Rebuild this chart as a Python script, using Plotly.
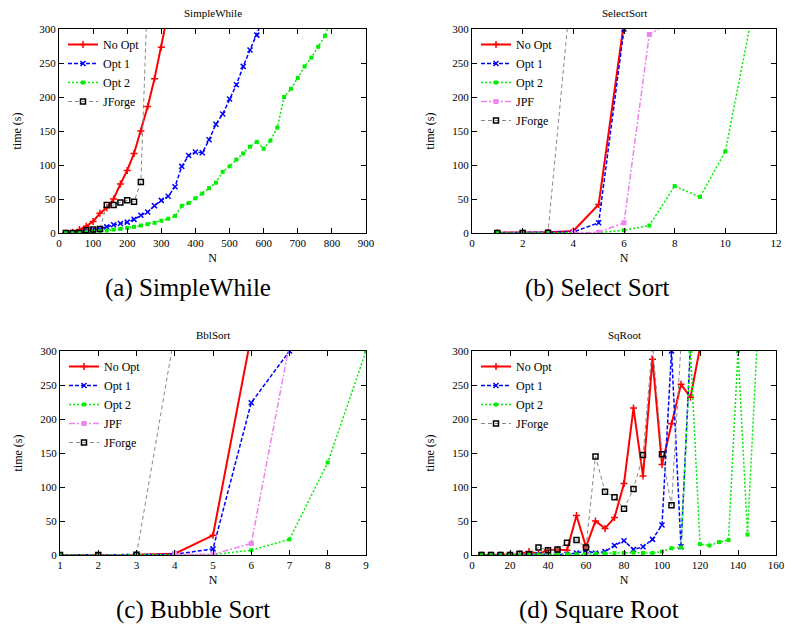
import plotly.graph_objects as go

# ---------------- data ----------------
# (a) SimpleWhile
sw_n = [20, 40, 60, 80, 100, 120, 140, 160, 180, 200, 220, 240, 260, 280, 300, 320]
sw_noopt = [0, 1, 5, 10, 17, 29, 37, 50, 72, 92, 117, 150, 186, 227, 273, 325]
sw_n1 = [20, 40, 60, 80, 100, 120, 140, 160, 180, 200, 220, 240, 260, 280, 300, 320, 340, 360, 380,
         400, 420, 440, 460, 480, 500, 520, 540, 560, 580, 600]
sw_opt1 = [0, 0.5, 1, 3, 4, 6, 9, 12, 14, 16, 20, 26, 31, 40, 48, 54, 68, 98, 114,
           119, 118, 137, 160, 175, 197, 218, 245, 269, 291, 317]
sw_n2 = [20, 40, 60, 80, 100, 120, 140, 160, 180, 200, 220, 240, 260, 280, 300, 320, 340, 360, 380,
         400, 420, 440, 460, 480, 500, 520, 540, 560, 580, 600, 620, 640, 660, 680, 700, 720,
         740, 760, 780, 800]
sw_opt2 = [0, 0, 0.5, 1, 2, 2.5, 3.5, 5, 6, 7.5, 9, 11, 13, 15, 18, 21, 25, 40, 44,
           51, 58, 66, 74, 90, 98, 108, 117, 127, 134, 124, 136, 155, 200, 212, 228, 245,
           258, 274, 290, 320]
sw_nj = [20, 40, 60, 80, 100, 120, 140, 160, 180, 200, 220, 240, 260]
sw_jforge = [0, 0, 0, 4, 5, 6, 41, 41, 45, 48, 46, 75, 360]

# (b) SelectSort
ss_n = [1, 2, 3, 4, 5, 6]
ss_noopt = [0.5, 0.5, 1, 3, 42, 310]
ss_opt1 = [0.5, 0.5, 0.5, 1.5, 15, 300]
ss_n2 = [1, 2, 3, 4, 5, 6, 7, 8, 9, 10, 11]
ss_opt2 = [0, 0, 0, 0, 0.5, 4, 11, 69, 53, 120, 310]
ss_nj = [4, 5, 6, 7, 8]
ss_jpf = [0.5, 1, 15, 292, 315]
ss_nf = [1, 2, 3, 4]
ss_jforge = [0, 0, 0.5, 395]

# (c) BblSort
bs_n = [1, 2, 3, 4, 5, 6]
bs_noopt = [0, 0, 0.5, 2, 29, 323]
bs_n1 = [1, 2, 3, 4, 5, 6, 7]
bs_opt1 = [0, 0, 0.5, 1, 9, 224, 300]
bs_n2 = [1, 2, 3, 4, 5, 6, 7, 8, 9]
bs_opt2 = [0, 0, 0, 0, 0.5, 7, 23, 136, 300]
bs_nj = [4, 5, 6, 7]
bs_jpf = [1, 1, 17, 310]
bs_nf = [1, 2, 3, 4]
bs_jforge = [0, 0, 0.5, 326]

# (d) SqRoot
sq_n = [5, 10, 15, 20, 25, 30, 35, 40, 45, 50, 55, 60, 65, 70, 75, 80, 85, 90, 95, 100,
        105, 110, 115, 120]
sq_noopt = [0, 0, 0, 0.5, 1, 5, 2, 7, 8, 7, 58, 12, 50, 39, 55, 105, 216, 116, 288, 133,
            193, 251, 232, 305]
sq_n1 = [5, 10, 15, 20, 25, 30, 35, 40, 45, 50, 55, 60, 65, 70, 75, 80, 85, 90, 95, 100,
         105, 110, 115]
sq_opt1 = [0, 0, 0, 0, 0, 0.5, 0.5, 0.5, 1, 1, 3, 6, 3, 5, 14, 21, 8, 12, 23, 44,
           300, 12, 310]
sq_n2 = [5, 10, 15, 20, 25, 30, 35, 40, 45, 50, 55, 60, 65, 70, 75, 80, 85, 90, 95, 100,
         105, 110, 115, 120, 125, 130, 135, 140, 145, 150]
sq_opt2 = [0, 0, 0, 0, 0, 0.5, 0.5, 0.5, 1, 1, 1, 1.5, 2, 2.5, 3, 3, 3.5, 3, 3, 5,
           10, 11, 300, 16, 14, 19, 22, 300, 30, 310]
sq_nf = [5, 10, 15, 20, 25, 30, 35, 40, 45, 50, 55, 60, 65, 70, 75, 80, 85, 90, 95, 100,
         105, 110]
sq_jforge = [0, 0, 0, 0, 2, 1, 11, 7, 8, 18, 22, 11, 145, 93, 85, 68, 97, 147, 310, 148,
             73, 310]

titles = ["SimpleWhile", "SelectSort", "BblSort", "SqRoot"]
captions = ["(a) SimpleWhile", "(b) Select Sort", "(c) Bubble Sort", "(d) Square Root"]

# ---------------- styles ----------------
FONT = "Liberation Serif, DejaVu Serif, serif"
W, H = 785, 628

STY = {
    "No Opt": dict(line=dict(color="#ff0000", width=2, dash="solid"),
                   marker=dict(symbol="cross-thin", size=5, color="#ff0000",
                               line=dict(color="#ff0000", width=1.5))),
    "Opt 1": dict(line=dict(color="#0000ff", width=1.5, dash="4px,2px"),
                  marker=dict(symbol="x-thin", size=5, color="#0000ff",
                              line=dict(color="#0000ff", width=1.5))),
    "Opt 2": dict(line=dict(color="#00ee00", width=1.5, dash="2px,2px"),
                  marker=dict(symbol="square", size=4, color="#00ee00")),
    "JPF": dict(line=dict(color="#ee82ee", width=1.5, dash="6px,2px,2px,2px"),
                marker=dict(symbol="square", size=5, color="#ee82ee")),
    "JForge": dict(line=dict(color="#888888", width=1, dash="4px,3px"),
                   marker=dict(symbol="square-open", size=5, color="#000000",
                               line=dict(color="#000000", width=1.5))),
}

panels = [
    [("No Opt", sw_n, sw_noopt), ("Opt 1", sw_n1, sw_opt1), ("Opt 2", sw_n2, sw_opt2),
     ("JForge", sw_nj, sw_jforge)],
    [("No Opt", ss_n, ss_noopt), ("Opt 1", ss_n, ss_opt1), ("Opt 2", ss_n2, ss_opt2),
     ("JPF", ss_nj, ss_jpf), ("JForge", ss_nf, ss_jforge)],
    [("No Opt", bs_n, bs_noopt), ("Opt 1", bs_n1, bs_opt1), ("Opt 2", bs_n2, bs_opt2),
     ("JPF", bs_nj, bs_jpf), ("JForge", bs_nf, bs_jforge)],
    [("No Opt", sq_n, sq_noopt), ("Opt 1", sq_n1, sq_opt1), ("Opt 2", sq_n2, sq_opt2),
     ("JForge", sq_nf, sq_jforge)],
]

# plot boxes in pixels (left, right, top, bottom)
boxes = [(59, 366, 29, 233), (472, 776, 29, 233), (60, 366, 351, 555), (472, 776, 351, 555)]
xranges = [(0, 900, 100), (0, 12, 2), (1, 9, 1), (0, 160, 20)]
caption_pos = [(188, 288), (597, 288), (193, 610), (599, 610)]

fig = go.Figure()
layout = dict(
    template="none",
    width=W, height=H, margin=dict(l=0, r=0, t=0, b=0, autoexpand=False),
    paper_bgcolor="white", plot_bgcolor="white",
    font=dict(family=FONT, size=11, color="black"),
    annotations=[],
)

for i, (series, box, xr) in enumerate(zip(panels, boxes, xranges)):
    k = "" if i == 0 else str(i + 1)
    lg = "legend" if i == 0 else f"legend{i + 1}"
    for name, xs, ys in series:
        s = STY[name]
        fig.add_trace(go.Scatter(
            x=xs, y=ys, name=name, mode="lines+markers",
            line=s["line"], marker=s["marker"],
            xaxis="x" + k, yaxis="y" + k, legend=lg,
        ))
    l, r, t, b = box
    xd = [l / W, r / W]
    yd = [1 - b / H, 1 - t / H]
    common = dict(showgrid=False, zeroline=False, showline=True, linecolor="black",
                  linewidth=1, mirror="allticks", ticks="inside", ticklen=5,
                  tickcolor="black", automargin=False,
                  tickfont=dict(family=FONT, size=11))
    layout["xaxis" + k] = dict(domain=xd, range=[xr[0], xr[1]], dtick=xr[2], tick0=0,
                               anchor="y" + k,
                               title=dict(text="N", font=dict(family=FONT, size=12), standoff=5),
                               **common)
    layout["yaxis" + k] = dict(domain=yd, range=[0, 300], dtick=50, anchor="x" + k,
                               title=dict(text="time (s)", font=dict(family=FONT, size=12),
                                          standoff=15),
                               **common)
    layout[lg] = dict(x=(l + 4) / W, y=1 - (t + 1) / H, xanchor="left", yanchor="top",
                      bgcolor="rgba(0,0,0,0)", borderwidth=0,
                      font=dict(family=FONT, size=12), tracegroupgap=0,
                      itemwidth=30)
    layout["annotations"].append(dict(
        text=titles[i], x=(l + r) / 2 / W, y=1 - (t - 16) / H, xref="paper", yref="paper",
        showarrow=False, font=dict(family=FONT, size=11), xanchor="center", yanchor="middle"))
    cx, cy = caption_pos[i]
    layout["annotations"].append(dict(
        text=captions[i], x=cx / W, y=1 - cy / H, xref="paper", yref="paper",
        showarrow=False, font=dict(family=FONT, size=25), xanchor="center", yanchor="middle"))

fig.update_layout(**layout)
fig.write_html("out.html", config={"displayModeBar": False},
               post_script="document.body.style.margin='0';")
